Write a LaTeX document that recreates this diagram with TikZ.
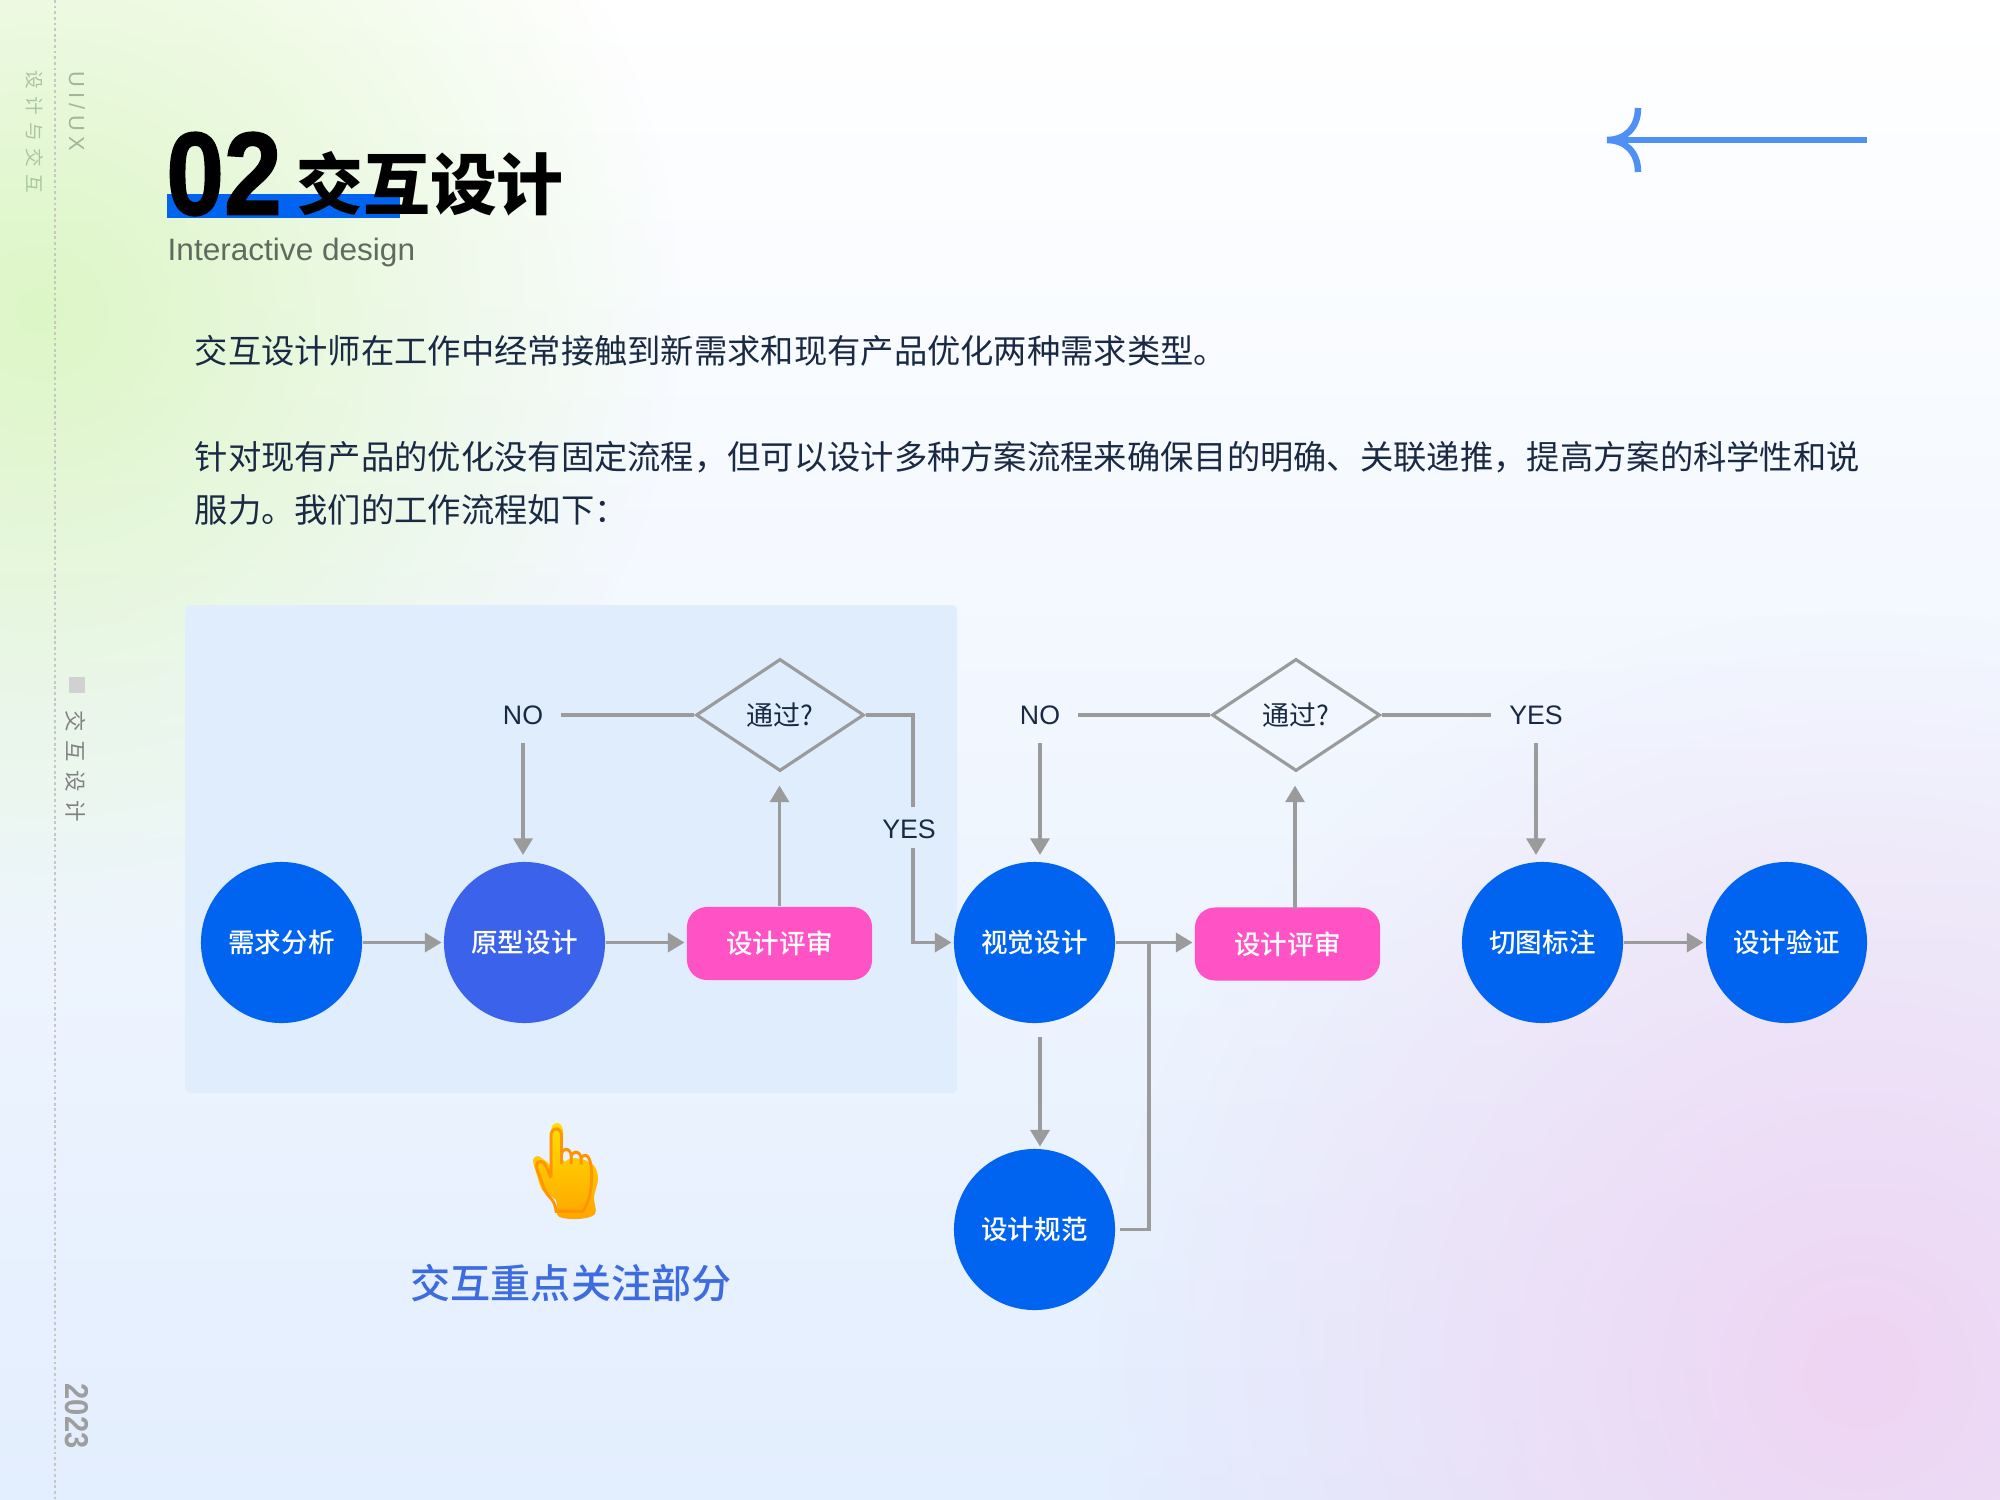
\documentclass[tikz,border=0pt]{standalone}
\usepackage{fontspec}
\usepackage{tikz}
\usetikzlibrary{shapes.geometric}
\usetikzlibrary{arrows.meta}
\usetikzlibrary{fadings}
\setmainfont{Noto Sans CJK SC}
\newfontfamily\latinfont{Liberation Sans}
\newfontfamily\numfont[FakeBold=1.5]{Liberation Sans Bold}
\newfontfamily\blackfont{Noto Sans CJK SC Black}
\newfontfamily\mediumfont{Noto Sans CJK SC Medium}
\newfontfamily\emojifont{Noto Emoji}
\newfontfamily\sidefont[LetterSpace=40]{Noto Sans CJK SC}
\newfontfamily\sidelatin[LetterSpace=25]{Liberation Sans}
\definecolor{ink}{HTML}{1B2A44}
\definecolor{flowgray}{HTML}{9B9B9B}
\definecolor{stepblue}{HTML}{0064F0}
\definecolor{protoblue}{HTML}{3A62EA}
\definecolor{focusblue}{HTML}{3D6BE0}
\definecolor{reviewpink}{HTML}{FF52C4}
\definecolor{panelblue}{HTML}{E0EDFD}
\definecolor{sidegreen}{HTML}{A9C4A0}
\definecolor{backblue}{HTML}{4E90F5}
\definecolor{subgray}{HTML}{5F6B5F}
\definecolor{glowgreen}{HTML}{DDF6C6}
\definecolor{glowpink}{HTML}{EFD5F3}
\definecolor{basemid}{HTML}{F0F6FF}
\definecolor{baselow}{HTML}{E3EEFE}
\tikzfading[name=softglow, inner color=transparent!0, outer color=transparent!100]
\tikzset{
	stepcircle/.style={circle, fill=stepblue, text=white, minimum size=1.61cm, inner sep=0pt, font=\mediumfont\fontsize{7.55}{9}\selectfont},
	reviewbox/.style={rectangle, rounded corners=0.2cm, fill=reviewpink, text=white, minimum width=1.85cm, minimum height=0.73cm, inner sep=0pt, font=\mediumfont\fontsize{7.55}{9}\selectfont},
	passdiamond/.style={diamond, aspect=1.5, draw=flowgray, line width=0.9pt, minimum width=1.68cm, minimum height=1.12cm, inner sep=0pt, text=ink, font=\fontsize{7.7}{9}\selectfont},
	answer/.style={text=ink, inner sep=5pt, font=\latinfont\fontsize{7.6}{9}\selectfont},
	flowline/.style={line width=0.95pt, color=flowgray},
	flowarrow/.style={flowline, ->, >={Triangle[length=4.7pt,width=5.4pt]}, shorten >=0.5pt},
	bodytext/.style={anchor=west, inner sep=0pt, text=ink, font=\fontsize{9.47}{11}\selectfont}
}
\begin{document}
\begin{tikzpicture}[x=0.01cm,y=-0.01cm]
	\useasboundingbox (0,0) rectangle (2000,1500);

	\shade[top color=white, middle color=basemid, bottom color=baselow] (0,0) rectangle (2000,1500);
	\begin{scope}
		\clip (0,0) rectangle (2000,1500);
		\fill[color=glowgreen, path fading=softglow] (40,310) circle (640);
		\fill[color=glowpink, path fading=softglow] (1860,1370) circle (760);
	\end{scope}

	\draw[color=black!22, line width=0.7pt, dash pattern=on 0.8pt off 0.8pt] (55,0) -- (55,1500);

	\node (sidezh) at (35,132) [rotate=-90, text=sidegreen, font=\sidefont\fontsize{5.3}{6}\selectfont] {设计与交互};
	\node (sideen) at (77,111) [rotate=-90, text=sidegreen!80!gray, font=\sidelatin\fontsize{6.2}{7}\selectfont] {UI/UX};
	\node (sidemark) at (77,685) [rectangle, fill=black!18, minimum size=0.16cm, inner sep=0pt] {};
	\node (sidetopic) at (76,766) [rotate=-90, text=black!50, font=\sidefont\fontsize{6.1}{7}\selectfont] {交互设计};
	\node (sideyear) at (77,1416) [rotate=-90, text=black!38, font=\latinfont\bfseries\fontsize{9.4}{11}\selectfont] {\scalebox{0.88}[1]{2023}};

	\fill[color=stepblue] (167,194) rectangle (400,218);
	\node (titlenum) at (224,174) [inner sep=0pt, font=\numfont\fontsize{33.5}{36}\selectfont] {\scalebox{0.88}[1]{02}};
	\node (titlezh) at (430,184) [inner sep=0pt, font=\blackfont\fontsize{19}{22}\selectfont] {交互设计};
	\node (titleen) at (167,252) [anchor=west, inner sep=0pt, text=subgray, font=\latinfont\fontsize{8.8}{11}\selectfont] {\scalebox{1.02}[1]{Interactive design}};

	\coordinate (backstart) at (1867,140);
	\coordinate (backtip) at (1607,140);
	\coordinate (backup) at (1638,108);
	\coordinate (backdown) at (1638,172);
	\draw[color=backblue, line width=1.85pt] (backstart) -- (backtip);
	\draw[color=backblue, line width=1.85pt] (backup) .. controls (1638,128) and (1625,140) .. (backtip) .. controls (1625,140) and (1638,152) .. (backdown);

	\node (intro) at (194,351) [bodytext] {交互设计师在工作中经常接触到新需求和现有产品优化两种需求类型。};
	\node (linea) at (194,457) [bodytext] {针对现有产品的优化没有固定流程，但可以设计多种方案流程来确保目的明确、关联递推，提高方案的科学性和说};
	\node (lineb) at (194,510) [bodytext] {服力。我们的工作流程如下：};

	\fill[color=panelblue, rounded corners=0.05cm] (185,605) rectangle (957,1093);

	\node (demand) at (281.5,942.5) [stepcircle] {需求分析};
	\node (proto) at (524.5,942.5) [stepcircle, fill=protoblue] {原型设计};
	\node (reviewa) at (779.5,943.5) [reviewbox] {设计评审};
	\node (visual) at (1034.5,942.5) [stepcircle] {视觉设计};
	\node (reviewb) at (1287.5,944) [reviewbox] {设计评审};
	\node (slice) at (1542.5,942.5) [stepcircle] {切图标注};
	\node (verify) at (1786.5,942.5) [stepcircle] {设计验证};
	\node (spec) at (1034.5,1229.5) [stepcircle] {设计规范};

	\node (passa) at (780,715) [passdiamond] {通过?};
	\node (passb) at (1296,715) [passdiamond] {通过?};

	\node (noa) at (523,715) [answer] {NO};
	\node (nob) at (1040,715) [answer] {NO};
	\node (yesa) at (909,829) [answer] {YES};
	\node (yesb) at (1536,715) [answer] {YES};

	\coordinate (yestop) at (913,807);
	\coordinate (yesbot) at (913,848);
	\coordinate (visualout) at (1040,1037);
	\coordinate (specout) at (1120,1229.5);
	\coordinate (joinpt) at (1149,943);
	\coordinate (reviewbtop) at (1295,908.5);

	\draw[flowarrow] (demand) -- (proto);
	\draw[flowarrow] (proto) -- (proto -| reviewa.west);
	\draw[flowarrow, shorten >=3.7pt] (reviewa.north) -- (reviewa.north |- passa.south);
	\draw[flowline] (passa.west) -- (noa.east);
	\draw[flowarrow, shorten >=1.8pt] (noa) -- (noa |- proto.north);
	\draw[flowline] (passa.east) -| (yestop);
	\draw[flowarrow] (yesbot) |- (visual.west);
	\draw[flowarrow] (visual) -- (visual -| reviewb.west);
	\draw[flowarrow, shorten >=3.7pt] (reviewbtop) -- (reviewbtop |- passb.south);
	\draw[flowline] (passb.west) -- (nob.east);
	\draw[flowarrow, shorten >=1.8pt] (nob) -- (nob |- visual.north);
	\draw[flowline] (passb.east) -- (yesb.west);
	\draw[flowarrow, shorten >=1.8pt] (yesb) -- (yesb |- slice.north);
	\draw[flowarrow] (slice) -- (verify);
	\draw[flowarrow] (visualout) -- (visualout |- spec.north);
	\draw[flowline] (specout) -| (joinpt);

	\shade[top color=yellow!75!orange, bottom color=orange!70!yellow] plot[smooth cycle, tension=0.55] coordinates {(551,1163) (551,1130) (557,1123) (563,1130) (563,1160) (572,1158) (585,1160) (595,1167) (598,1180) (594,1197) (595,1214) (578,1219) (558,1216) (556,1200) (543,1191) (536,1172) (533,1160) (538,1156) (547,1162)};
	\node (hand) at (565,1171) [inner sep=0pt, text=orange!85!yellow, font=\emojifont\fontsize{24}{28}\selectfont] {\scalebox{0.88}[1]{👆}};
	\node (focus) at (571,1283) [inner sep=0pt, text=focusblue, font=\mediumfont\fontsize{11.4}{14}\selectfont] {交互重点关注部分};
\end{tikzpicture}
\end{document}
